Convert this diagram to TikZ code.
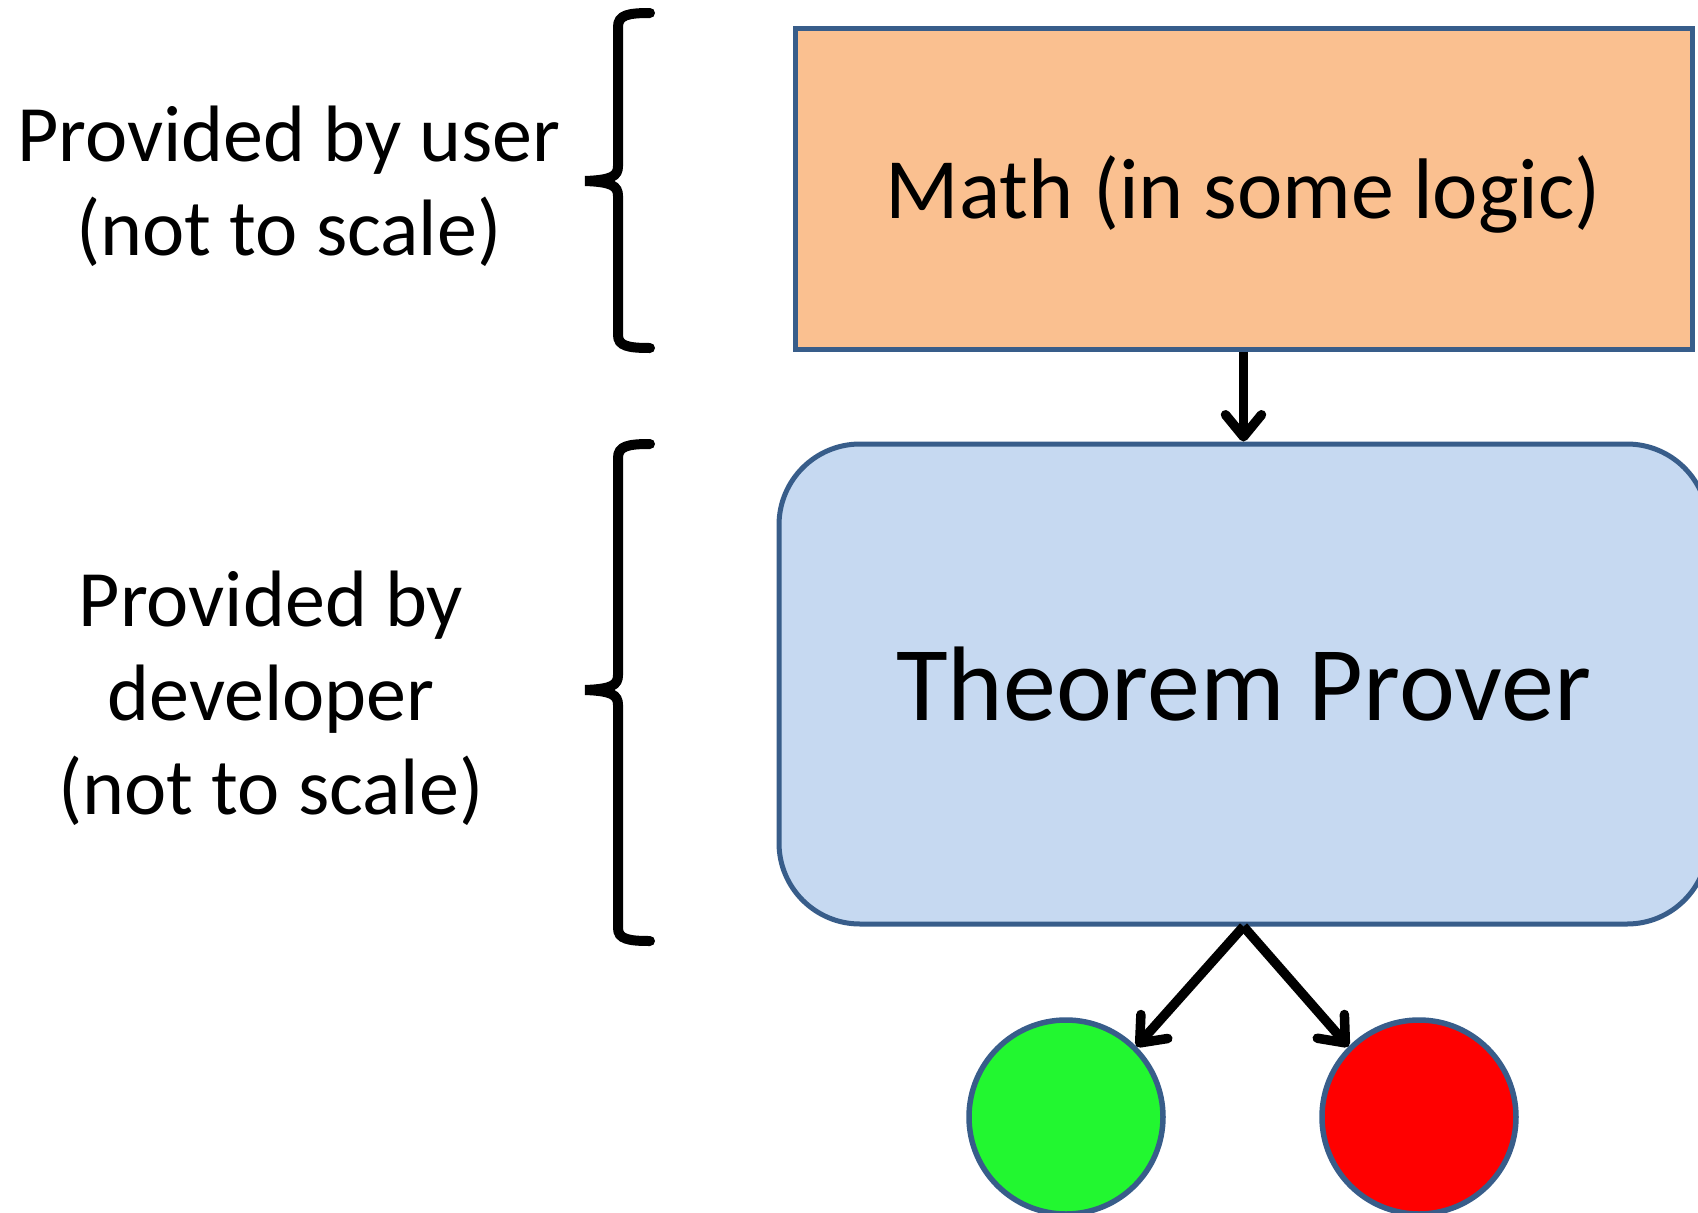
\documentclass[tikz,border=0pt]{standalone}
\usepackage{fontspec}
\setmainfont{Carlito}
\usetikzlibrary{arrows.meta,positioning,calc}

\definecolor{edgeblue}{HTML}{385D8A}
\definecolor{mathfill}{HTML}{FAC090}
\definecolor{proverfill}{HTML}{C6D9F1}
\definecolor{yesgreen}{HTML}{22F730}
\definecolor{nored}{HTML}{FF0000}

\tikzset{
  flow/.style={line width=9.5pt, -{Straight Barb[length=22pt,width=36pt,line cap=round,line join=round]}},
  brace/.style={line width=10pt, line cap=round},
  outcome/.style={draw=edgeblue, line width=5.5pt, circle, minimum size=194pt, inner sep=0pt},
  sidetext/.style={align=center, font=\fontsize{80}{94}\selectfont}
}

\begin{document}
\begin{tikzpicture}[x=1pt,y=-1pt]
  \clip (0,0) rectangle (1698,1213);
  % Boxes
  \node[draw=edgeblue, line width=5pt, fill=mathfill, minimum width=897pt, minimum height=321pt] (math) at (1243.5,188.5) {};
  \node[font=\fontsize{86}{100}\selectfont] (mathtext) at (1243.5,194) {Math (in some logic)};
  \node[draw=edgeblue, line width=5pt, fill=proverfill, rounded corners=81pt, minimum width=929pt, minimum height=480pt, font=\fontsize{106}{120}\selectfont] (prover) at (1243.5,684) {Theorem Prover};

  % Outcomes
  \node[outcome, fill=yesgreen] (yes) at (1066,1117) {};
  \node[outcome, fill=nored] (no) at (1419,1117) {};

  % Arrows
  \draw[flow] (math.south) -- (prover.north);
  \draw[flow] (prover.south) -- (yes.45);
  \draw[flow] (prover.south) -- (no.135);

  % Braces
  \draw[brace] (650,13) .. controls (628,13) and (618,15) .. (618,27) -- (618,166)
    .. controls (618,176) and (612,180) .. (585,181)
    .. controls (612,182) and (618,186) .. (618,196) -- (618,335)
    .. controls (618,346) and (628,348) .. (650,348);
  \draw[brace] (650,444) .. controls (628,444) and (618,446) .. (618,458) -- (618,675)
    .. controls (618,685) and (612,689) .. (585,690)
    .. controls (612,691) and (618,695) .. (618,705) -- (618,928)
    .. controls (618,939) and (628,941) .. (650,941);

  % Labels
  \node[sidetext] (user) at (289,186) {Provided by user\\(not to scale)};
  \node[sidetext] (dev) at (271,698) {Provided by\\developer\\(not to scale)};
\end{tikzpicture}
\end{document}
